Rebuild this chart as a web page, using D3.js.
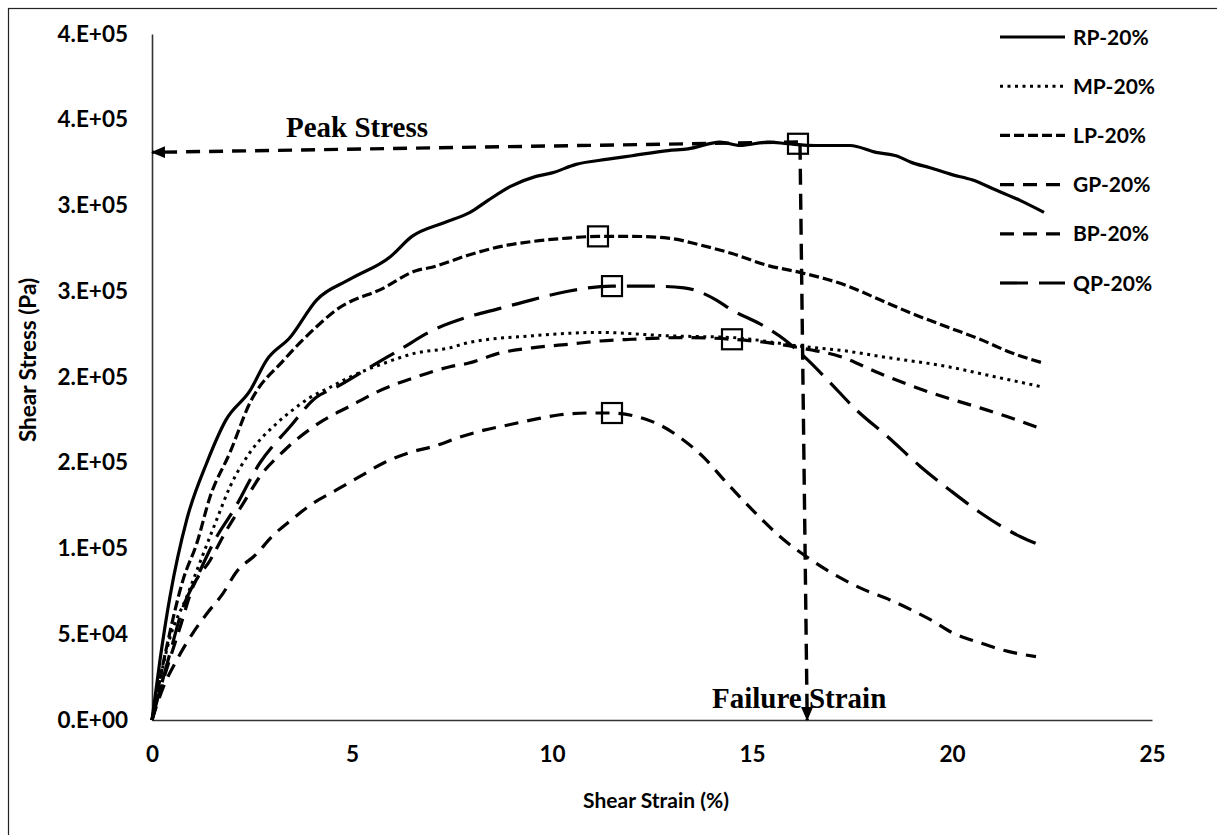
<!DOCTYPE html>
<html>
<head>
<meta charset="utf-8">
<script src="https://cdn.jsdelivr.net/npm/d3@7"></script>
<style>
  html, body { margin: 0; padding: 0; background: #ffffff; }
  svg { display: block; }
</style>
</head>
<body>
<svg id="chart" width="1217" height="835"></svg>
<script>
// ---- data: shear strain (%) vs shear stress (Pa) ----
const seriesNames = ["RP-20%", "MP-20%", "LP-20%", "GP-20%", "BP-20%", "QP-20%"];

const rpStrain = [0, 0.2, 0.45, 0.87, 1.37, 1.85, 2.45, 2.87, 3.45, 4.12, 4.95, 5.95, 6.5, 7.3, 7.95, 8.4, 8.95, 9.6, 10.0, 10.6, 11.4, 12.0, 12.9, 13.4, 14.2, 14.7, 15.4, 15.9, 16.6, 17.45, 18.1, 18.6, 19.0, 19.45, 20.0, 20.5, 21.1, 21.7, 22.3];
const rpStress = [0, 35000, 72000, 117000, 150000, 175000, 192000, 210000, 223000, 245000, 257000, 270000, 282000, 290000, 296000, 303000, 311000, 317000, 319000, 324000, 327000, 329000, 332000, 333000, 337000, 335000, 337000, 336000, 335000, 335000, 331000, 329000, 325000, 322000, 318000, 315000, 309000, 303000, 296000];

const mpStrain = [0, 0.45, 0.87, 1.2, 1.62, 1.95, 2.45, 3.12, 3.53, 3.95, 4.45, 4.95, 5.8, 6.6, 7.45, 7.9, 9.5, 11.2, 12.9, 14.5, 16.2, 17.4, 18.2, 19.9, 21.1, 22.3];
const mpStress = [0, 48000, 72000, 92000, 117000, 136000, 156000, 173000, 181000, 188000, 194000, 200000, 208000, 214000, 217000, 220000, 224000, 226000, 224000, 223000, 218000, 215000, 212000, 206000, 200000, 194000];

const lpStrain = [0, 0.37, 0.78, 1.12, 1.45, 1.95, 2.45, 3.3, 4.1, 4.6, 5.8, 6.6, 7.0, 7.9, 8.7, 9.5, 10.4, 11.15, 12.0, 12.9, 13.7, 14.5, 15.4, 16.2, 17.4, 18.2, 19.0, 19.9, 20.7, 21.5, 22.3];
const lpStress = [0, 43000, 82000, 103000, 130000, 156000, 185000, 210000, 229000, 239000, 252000, 262000, 264000, 271000, 276000, 279000, 281000, 282000, 282000, 281000, 277000, 272000, 265000, 261000, 253000, 245000, 237000, 229000, 222000, 214000, 208000];

const gpStrain = [0, 0.28, 0.7, 1.03, 1.45, 1.87, 2.3, 2.7, 3.3, 4.3, 4.95, 5.6, 6.6, 7.45, 7.9, 8.7, 9.5, 10.4, 11.2, 12.0, 13.3, 14.5, 15.4, 16.2, 17.2, 18.2, 19.45, 20.7, 21.5, 22.2];
const gpStress = [0, 23000, 54000, 78000, 93000, 111000, 127000, 142000, 157000, 175000, 183000, 191000, 200000, 206000, 208000, 214000, 217000, 219000, 221000, 222000, 223000, 222000, 220000, 217000, 212000, 202000, 191000, 182000, 176000, 170000];

const bpStrain = [0, 0.28, 0.62, 1.03, 1.37, 1.78, 2.1, 2.62, 3.0, 3.5, 4.0, 4.6, 5.2, 5.8, 6.45, 7.1, 7.7, 8.3, 8.9, 9.5, 10.2, 10.9, 11.5, 12.1, 12.7, 13.3, 13.8, 14.3, 14.7, 15.2, 15.6, 16.5, 17.2, 17.8, 18.45, 19.0, 19.5, 20.0, 20.7, 21.4, 22.1];
const bpStress = [0, 19000, 35000, 51000, 62000, 74000, 86000, 97000, 107000, 117000, 126000, 134000, 142000, 150000, 156000, 160000, 165000, 169000, 172000, 175000, 178000, 179000, 179000, 177000, 172000, 163000, 153000, 140000, 130000, 118000, 109000, 93000, 83000, 76000, 70000, 64000, 58000, 51000, 45000, 40000, 37000];

const qpStrain = [0, 0.45, 0.78, 1.12, 1.62, 2.03, 2.7, 3.45, 4.1, 4.6, 5.4, 6.2, 7.0, 7.9, 8.7, 9.5, 10.4, 11.5, 12.45, 13.3, 14.1, 14.5, 15.2, 15.8, 16.3, 16.9, 17.6, 18.4, 19.2, 19.95, 20.7, 21.7, 22.2];
const qpStress = [0, 39000, 66000, 83000, 107000, 122000, 150000, 171000, 188000, 194000, 205000, 216000, 227000, 235000, 240000, 245000, 250000, 253000, 253000, 252000, 245000, 239000, 231000, 222000, 212000, 198000, 181000, 165000, 148000, 134000, 121000, 107000, 102000];

// peak points marked with open squares (RP, LP, QP, GP, BP)
const peakStrain = [16.15, 11.15, 11.5, 14.5, 11.5];
const peakStress = [336000, 282000, 253000, 222000, 179000];

// failure reading for RP-20%: horizontal arrow to the stress axis, vertical arrow to the strain axis
const peakArrowStrain = [16.15, 0];
const peakArrowStress = [337000, 331000];
const failArrowStrain = [16.2, 16.38];
const failArrowStress = [336000, 0];
const annotationText = ["Peak Stress", "Failure Strain"];
const annotationStrain = [3.35, 14.0];
const annotationStress = [340000, 7000];

const xTicks = [0, 5, 10, 15, 20, 25];
const yTicks = [0, 50000, 100000, 150000, 200000, 250000, 300000, 350000, 400000];
const yTickLabels = ["0.E+00", "5.E+04", "1.E+05", "2.E+05", "2.E+05", "3.E+05", "3.E+05", "4.E+05", "4.E+05"];

// ---- styling ----
const lineStyle = {
  "RP-20%": { dash: null, width: 3.2 },
  "MP-20%": { dash: "3,4.5", width: 3 },
  "LP-20%": { dash: "10,4", width: 3.2 },
  "GP-20%": { dash: "14,9", width: 3.2 },
  "BP-20%": { dash: "14,9", width: 3.2 },
  "QP-20%": { dash: "28,11", width: 3.2 }
};

const series = [
  { name: "RP-20%", strain: rpStrain, stress: rpStress },
  { name: "MP-20%", strain: mpStrain, stress: mpStress },
  { name: "LP-20%", strain: lpStrain, stress: lpStress },
  { name: "GP-20%", strain: gpStrain, stress: gpStress },
  { name: "BP-20%", strain: bpStrain, stress: bpStress },
  { name: "QP-20%", strain: qpStrain, stress: qpStress }
];

const svg = d3.select("#chart");
const W = 1217, H = 835;

svg.append("rect").attr("x", 0).attr("y", 0).attr("width", W).attr("height", H).attr("fill", "#ffffff");
// outer frame
svg.append("rect")
  .attr("x", 8.5).attr("y", 8.5).attr("width", W + 10).attr("height", H + 10)
  .attr("fill", "none").attr("stroke", "#222").attr("stroke-width", 1.2);

const x = d3.scaleLinear().domain([0, 25]).range([152, 1152]);
const y = d3.scaleLinear().domain([0, 400000]).range([720, 34]);

// axes
const axisFont = "Lato, 'Open Sans', sans-serif";
const yAxis = svg.append("g")
  .attr("transform", `translate(${x(0)},0)`)
  .call(d3.axisLeft(y).tickValues(yTicks).tickFormat((d, i) => yTickLabels[i]).tickSize(0).tickPadding(24));
const xAxis = svg.append("g")
  .attr("transform", `translate(0,${y(0)})`)
  .call(d3.axisBottom(x).tickValues(xTicks).tickFormat(d3.format("d")).tickSize(0).tickPadding(26));

[yAxis, xAxis].forEach(g => {
  g.select(".domain").attr("stroke", "#333").attr("stroke-width", 1.6);
  g.selectAll("text")
    .attr("font-family", axisFont).attr("font-weight", 700)
    .attr("font-size", 22.5).attr("fill", "#000");
});

// axis titles
svg.append("text")
  .attr("x", 656).attr("y", 808)
  .attr("text-anchor", "middle")
  .attr("font-family", axisFont).attr("font-weight", 700).attr("font-size", 21)
  .text("Shear Strain (%)");
svg.append("text")
  .attr("transform", "translate(36,360) rotate(-90)")
  .attr("text-anchor", "middle")
  .attr("font-family", axisFont).attr("font-weight", 700).attr("font-size", 22.5)
  .text("Shear Stress (Pa)");

// curves
const line = d3.line()
  .x(d => x(d[0])).y(d => y(d[1]))
  .curve(d3.curveMonotoneX);

svg.append("g").selectAll("path")
  .data(series)
  .join("path")
  .attr("d", s => line(s.strain.map((v, i) => [v, s.stress[i]])))
  .attr("fill", "none")
  .attr("stroke", "#000")
  .attr("stroke-width", s => lineStyle[s.name].width)
  .attr("stroke-dasharray", s => lineStyle[s.name].dash)
  .attr("stroke-linejoin", "round");

// peak markers
svg.append("g").selectAll("rect")
  .data(peakStrain.map((v, i) => [v, peakStress[i]]))
  .join("rect")
  .attr("x", d => x(d[0]) - 10).attr("y", d => y(d[1]) - 10)
  .attr("width", 20).attr("height", 20)
  .attr("fill", "none").attr("stroke", "#000").attr("stroke-width", 2.2);

// arrowheads
const defs = svg.append("defs");
defs.append("marker")
  .attr("id", "arrowHead")
  .attr("viewBox", "0 0 14 12")
  .attr("refX", 13).attr("refY", 6)
  .attr("markerWidth", 14).attr("markerHeight", 12)
  .attr("markerUnits", "userSpaceOnUse")
  .attr("orient", "auto")
  .append("path").attr("d", "M0,0 L14,6 L0,12 Z").attr("fill", "#000");

const arrowLine = d3.line().x(d => x(d[0])).y(d => y(d[1]));
svg.append("path")
  .attr("d", arrowLine(peakArrowStrain.map((v, i) => [v, peakArrowStress[i]])))
  .attr("fill", "none").attr("stroke", "#000").attr("stroke-width", 3.4)
  .attr("stroke-dasharray", "14,9")
  .attr("marker-end", "url(#arrowHead)");
svg.append("path")
  .attr("d", arrowLine(failArrowStrain.map((v, i) => [v, failArrowStress[i]])))
  .attr("fill", "none").attr("stroke", "#000").attr("stroke-width", 3.4)
  .attr("stroke-dasharray", "16,9")
  .attr("marker-end", "url(#arrowHead)");

// annotation labels
svg.append("g").selectAll("text")
  .data(annotationText)
  .join("text")
  .attr("x", (d, i) => x(annotationStrain[i]))
  .attr("y", (d, i) => y(annotationStress[i]))
  .attr("font-family", "'Liberation Serif', 'Times New Roman', serif")
  .attr("font-weight", 700).attr("font-size", 29)
  .text(d => d);

// legend
const legend = svg.append("g").attr("transform", "translate(1000,37)");
const rows = legend.selectAll("g")
  .data(seriesNames)
  .join("g")
  .attr("transform", (d, i) => `translate(0,${i * 49.2})`);
rows.append("line")
  .attr("x1", 0).attr("x2", 65).attr("y1", 0).attr("y2", 0)
  .attr("stroke", "#000")
  .attr("stroke-width", d => lineStyle[d].width)
  .attr("stroke-dasharray", d => lineStyle[d].dash);
rows.append("text")
  .attr("x", 73).attr("y", 0).attr("dy", "0.36em")
  .attr("font-family", axisFont).attr("font-weight", 700).attr("font-size", 21)
  .text(d => d);
</script>
</body>
</html>
